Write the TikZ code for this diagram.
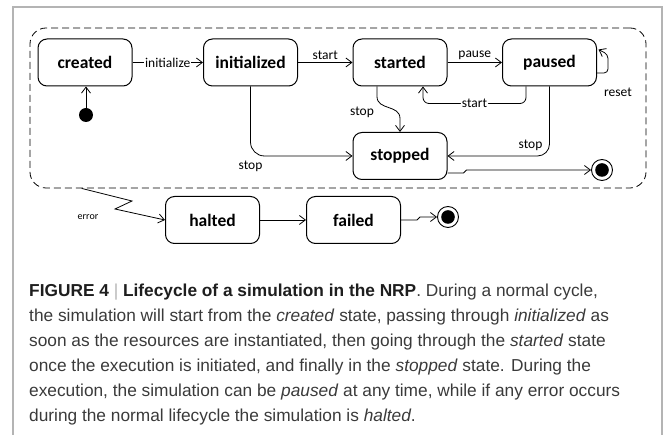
\documentclass[tikz,border=0pt]{standalone}
\usepackage{fontspec}
\setmainfont{Liberation Sans}
\newfontfamily\carlito{Carlito}
\usetikzlibrary{arrows.meta,calc}
\definecolor{frameg}{HTML}{B4B4B4}
\definecolor{captxt}{HTML}{3A3A3A}
\definecolor{capbold}{HTML}{1E1E1E}
\begin{document}
\begin{tikzpicture}[x=1pt,y=-1pt,
  state/.style={draw, line width=1pt, rounded corners=9pt, minimum width=94pt,
    minimum height=47pt, inner sep=0pt, font=\carlito\bfseries\fontsize{17.5}{20}\selectfont},
  lab/.style={font=\carlito\fontsize{13.5}{15}\selectfont, inner sep=1pt},
  smalllab/.style={font=\carlito\fontsize{10}{12}\selectfont, inner sep=1pt},
  arr/.style={line width=0.8pt, -{Straight Barb[length=6pt,width=9pt]}},
  initdot/.style={circle, fill=black, minimum size=14pt, inner sep=0pt},
  finalstate/.style={circle, draw, line width=0.9pt, minimum size=21pt, inner sep=0pt,
    path picture={\fill (path picture bounding box.center) circle (6.8pt);}},
  container/.style={draw, line width=0.8pt, dash pattern=on 7pt off 4pt, rounded corners=16pt,
    minimum width=616pt, minimum height=160pt, inner sep=0pt},
  capline/.style={anchor=base west, inner sep=0pt, text=captxt,
    font=\fontsize{17.3}{20}\selectfont}
]
\useasboundingbox (0,0) rectangle (665,435);
% outer frame
\draw[frameg, line width=1.3pt] (13,435) -- (13,7) -- (662,7) -- (662,435);

% container
\node[container] (sys) at (338,108) {};

% states
\node[state] (created) at (85,62.5) {created};
\node[state] (initialized) at (250.5,62.5) {initialized};
\node[state] (started) at (400,62.5) {started};
\node[state] (paused) at (549.5,62.5) {paused};
\node[state] (stopped) at (400,156) {stopped};
\node[state] (halted) at (212.5,220) {halted};
\node[state] (failed) at (353.5,220) {failed};
\node[initdot] (init) at (86,115) {};
\node[finalstate] (end1) at (602,170) {};
\node[finalstate] (end2) at (448,217) {};

% transitions
\draw[arr] (init) -- (init |- created.south);
\draw[arr] (created) -- node[lab, fill=white]{initialize} (initialized);
\draw[arr] (initialized) -- node[lab, above=1pt]{start} (started);
\draw[arr] (started) -- node[lab, above=1pt]{pause} (paused);
\draw[arr, rounded corners=6pt] ($(paused.south)+(-23.5,0)$) -- ($(paused.south)+(-23.5,17)$)
  -- node[lab, fill=white]{start} ($(started.south)+(23,17)$) -- ($(started.south)+(23,0)$);
\draw[arr] ($(started.south)+(-23,0)$) -- ($(started.south)+(-23,10)$)
  .. controls ($(started.south)+(-23,24)$) and ($(started.south)+(0,18)$) .. ($(started.south)+(0,32)$)
  -- (stopped.north);
\node[lab] at (362,112) {stop};
\draw[arr, rounded corners=14pt] (initialized.south) |- node[lab, pos=0.5, yshift=-10pt]{stop} (stopped.west);
\draw[arr, rounded corners=12pt] (paused.south) |- node[lab, pos=0.5, xshift=-19pt, yshift=11pt]{stop} (stopped.east);
\draw[arr, rounded corners=4pt] ($(paused.east)+(0,10.5)$) -- ($(paused.east)+(11,10.5)$)
  -- ($(paused.east)+(11,-8)$) -- ($(paused.east)+(1.5,-13)$);
\node[lab] at (618,92) {reset};
\draw[arr] ($(stopped.east)+(0,17)$) -- ($(stopped.east)+(16,17)$) -- ($(stopped.east)+(19,14)$) -- (end1);
\draw[arr] ($(sys.south west)+(52,0)$) -- (132,201) -- (115,209) -- (halted.west);
\node[smalllab] at (88,217) {error};
\draw[arr] (halted) -- (failed);
\draw[arr] (failed.east) -- ($(failed.east)+(16,0)$) -- ($(failed.east)+(19,-3)$) -- (end2);

% caption
\node[capline] (c1) at (29,297) {{\color{capbold}\bfseries FIGURE 4} {\color{frameg}|} {\color{capbold}\bfseries Lifecycle of a simulation in the NRP}. During a normal cycle,};
\node[capline] (c2) at (29,322) {the simulation will start from the \textit{created} state, passing through \textit{initialized} as};
\node[capline] (c3) at (29,347) {soon as the resources are instantiated, then going through the \textit{started} state};
\node[capline] (c4) at (29,372) {once the execution is initiated, and finally in the \textit{stopped} state. During the};
\node[capline] (c5) at (29,397) {execution, the simulation can be \textit{paused} at any time, while if any error occurs};
\node[capline] (c6) at (29,422) {during the normal lifecycle the simulation is \textit{halted}.};
\end{tikzpicture}
\end{document}
